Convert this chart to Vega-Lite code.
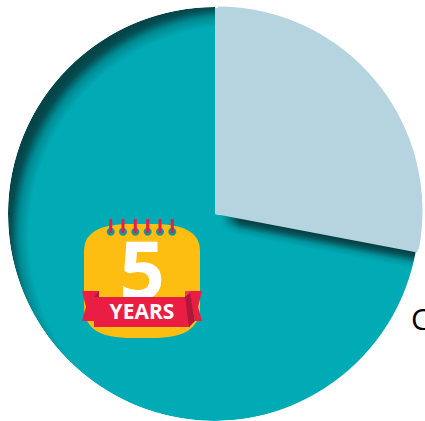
{
  "$schema": "https://vega.github.io/schema/vega-lite/v6.json",
  "autosize": "none",
  "padding": 0,
  "width": 425,
  "height": 421,
  "background": "white",
  "data": {"values": [
    {"category": "Five years or more", "share": 72, "slot": 2},
    {"category": "Under five years", "share": 28, "slot": 1}
  ]},
  "encoding": {
    "theta": {"field": "share", "type": "quantitative", "stack": true, "scale": {"domain": [0, 100]}},
    "order": {"field": "slot", "type": "ordinal"},
    "detail": {"field": "category"},
    "tooltip": {"field": "category"}
  },
  "layer": [
    {
      "mark": {"type": "arc", "outerRadius": 207, "x": {"expr": "width/2+2.5"}, "y": {"expr": "height/2+3.5"}},
      "encoding": {
        "fill": {
          "condition": {
            "test": "datum.slot === 2",
            "value": {
              "gradient": "radial", "x1": 0.56, "y1": 0.55, "r1": 0, "x2": 0.56, "y2": 0.55, "r2": 0.56,
              "stops": [
                {"offset": 0, "color": "#00abb6"},
                {"offset": 0.9, "color": "#00abb6"},
                {"offset": 0.945, "color": "#008b93"},
                {"offset": 0.98, "color": "#054f54"},
                {"offset": 1, "color": "#054549"}
              ]
            }
          },
          "value": "transparent"
        }
      }
    },
    {
      "mark": {"type": "arc", "outerRadius": 207, "x": {"expr": "width/2+8.5"}, "y": {"expr": "height/2+21.5"}},
      "encoding": {
        "fill": {
          "condition": {
            "test": "datum.slot === 1",
            "value": {
              "gradient": "linear", "x1": 0, "y1": 0.773, "x2": -0.0108, "y2": 0.84,
              "stops": [
                {"offset": 0, "color": "#043c40"},
                {"offset": 0.3, "color": "#06565b"},
                {"offset": 0.65, "color": "#01949e"},
                {"offset": 1, "color": "#00abb6"}
              ]
            }
          },
          "value": "transparent"
        }
      }
    },
    {
      "mark": {"type": "arc", "outerRadius": 207, "x": {"expr": "width/2+8.5"}, "y": {"expr": "height/2+21.5"}},
      "encoding": {
        "fill": {
          "condition": {
            "test": "datum.slot === 1",
            "value": {
              "gradient": "linear", "x1": 0, "y1": 0.5, "x2": 0.09, "y2": 0.5,
              "stops": [
                {"offset": 0, "color": "#00abb6"},
                {"offset": 1, "color": "rgba(0,171,182,0)"}
              ]
            }
          },
          "value": "transparent"
        }
      }
    },
    {
      "data": {"values": [{"ring": "outside"}]},
      "encoding": {"theta": null, "order": null, "detail": null, "tooltip": null},
      "layer": [
        {"mark": {"type": "arc", "innerRadius": 207, "outerRadius": 330, "theta": 0, "theta2": 6.2832, "fill": "white", "x": {"expr": "width/2+2.5"}, "y": {"expr": "height/2+3.5"}}},
        {"mark": {"type": "arc", "innerRadius": 206, "outerRadius": 330, "theta": 1.6, "theta2": 3.1416, "fill": "white", "x": {"expr": "width/2+0.5"}, "y": {"expr": "height/2+4.5"}}}
      ]
    },
    {
      "mark": {"type": "arc", "outerRadius": 206, "x": {"expr": "width/2+2.5"}, "y": {"expr": "height/2+3.5"}},
      "encoding": {
        "fill": {"condition": {"test": "datum.slot === 1", "value": "#b6d4e0"}, "value": "transparent"}
      }
    },
    {
      "mark": {"type": "arc", "outerRadius": 204.5, "x": {"expr": "width/2+5.5"}, "y": {"expr": "height/2+0.5"}},
      "encoding": {
        "fill": {"condition": {"test": "datum.slot === 1", "value": "#b6d4e0"}, "value": "transparent"}
      }
    },
    {
      "data": {"values": [{"part": "label"}]},
      "encoding": {"theta": null, "order": null, "detail": null, "tooltip": null},
      "layer": [
        {"mark": {"type": "point", "filled": true, "opacity": 1, "size": 4, "fill": "#febd11", "stroke": null, "x": {"expr": "width/2-70.5"}, "y": {"expr": "height/2+70.5"},
          "shape": "M-58,-30 C-58,-50 -40,-57 -10,-57 L10,-57 C40,-57 58,-50 58,-30 L58,25 C58,48 42,57 10,57 L-10,57 C-42,57 -58,48 -58,25 Z"}},
        {"mark": {"type": "point", "filled": true, "opacity": 1, "size": 4, "fill": "#0f95a6", "stroke": null, "x": {"expr": "width/2-70.5"}, "y": {"expr": "height/2+70.5"},
          "shape": "M-31.3,-53.3 a4,4 0 1,0 .01,0 Z M-19,-53.3 a4,4 0 1,0 .01,0 Z M-6.7,-53.3 a4,4 0 1,0 .01,0 Z M5.7,-53.3 a4,4 0 1,0 .01,0 Z M18,-53.3 a4,4 0 1,0 .01,0 Z M30.3,-53.3 a4,4 0 1,0 .01,0 Z"}},
        {"mark": {"type": "text", "text": "5", "font": "Open Sans", "fontWeight": "bold", "fontSize": 80, "fill": "white", "align": "center", "baseline": "alphabetic", "x": {"expr": "width/2-70.5"}, "y": {"expr": "height/2+88.5"}}},
        {"mark": {"type": "point", "filled": true, "opacity": 1, "size": 4, "fill": "#e91e42", "stroke": null, "x": {"expr": "width/2-70.5"}, "y": {"expr": "height/2+70.5"},
          "shape": "M-32.8,-62 h3 v14 h-3 Z M-20.5,-62 h3 v14 h-3 Z M-8.2,-62 h3 v14 h-3 Z M4.2,-62 h3 v14 h-3 Z M16.5,-62 h3 v14 h-3 Z M28.8,-62 h3 v14 h-3 Z M-48,16 L48,16 L48,46 L-48,46 Z M-60,10 L-43,10 L-43,16 L-48,16 L-48,40 L-60,40 L-56,26 Z M60,10 L43,10 L43,16 L48,16 L53,40 L60,40 L56,26 Z"}},
        {"mark": {"type": "point", "filled": true, "opacity": 1, "size": 4, "fill": "#f0405f", "stroke": null, "x": {"expr": "width/2-70.5"}, "y": {"expr": "height/2+70.5"},
          "shape": "M43,10 L49,10 L43,16 Z"}},
        {"mark": {"type": "point", "filled": true, "opacity": 1, "size": 4, "fill": "#b0173a", "stroke": null, "x": {"expr": "width/2-70.5"}, "y": {"expr": "height/2+70.5"},
          "shape": "M-48,16 L-43,10 L-43,16 Z M43,16 L48,12 L53,40 L47,46 Z"}},
        {"mark": {"type": "text", "text": "YEARS", "font": "Open Sans", "fontWeight": "bold", "fontSize": 21, "fill": "white", "align": "center", "baseline": "alphabetic", "x": {"expr": "width/2-70.5"}, "y": {"expr": "height/2+108"}}},
        {"mark": {"type": "text", "text": "C", "font": "Open Sans", "fontSize": 30, "fill": "black", "align": "left", "baseline": "alphabetic", "x": {"expr": "width/2+198.5"}, "y": {"expr": "height/2+119.5"}}}
      ]
    }
  ],
  "config": {"view": {"stroke": null}}
}
